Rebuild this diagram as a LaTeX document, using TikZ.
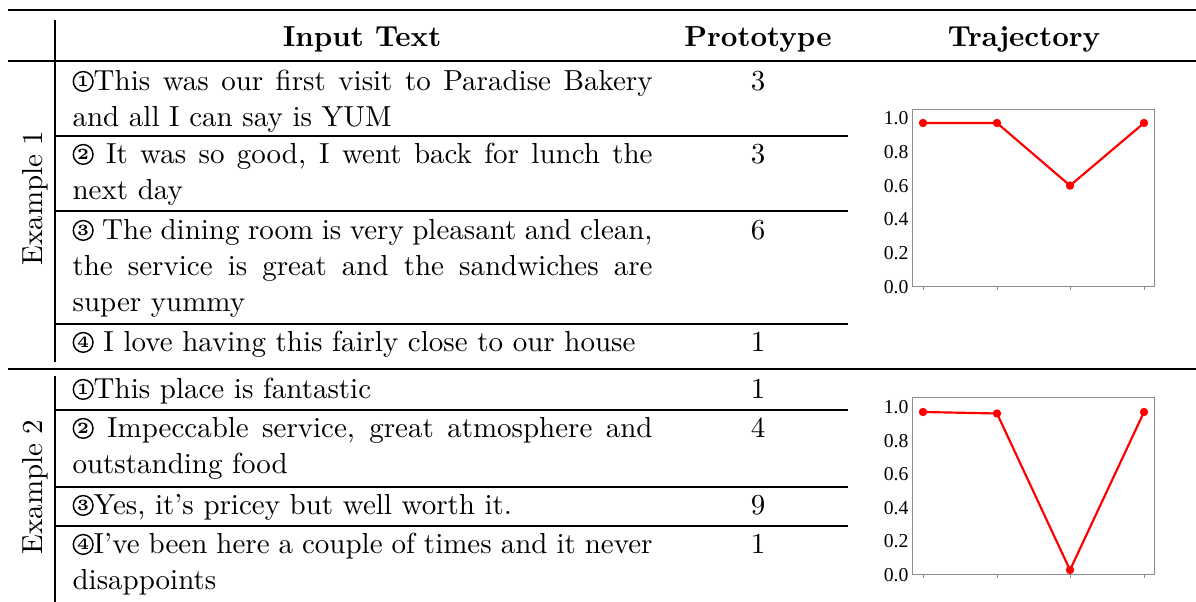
\documentclass[tikz,border=0pt]{standalone}
\usepackage{fontspec}
\newfontfamily\axisfont{Liberation Serif}
\newcommand\cnum[1]{\tikz[baseline=0pt,x=1pt,y=1pt]{\draw[line width=0.5pt] (0pt,3.3pt) circle[radius=3.4pt]; \node[anchor=center,inner sep=0pt,font=\fontsize{5.4}{5.4}\selectfont\bfseries] at (0pt,3.3pt) {#1};}}
\newcommand\jl[1]{\makebox[200.1pt][s]{#1}}
\begin{document}
\begin{tikzpicture}[x=0.345pt,y=-0.345pt,
  txt/.style={anchor=base west,inner sep=0pt,font=\fontsize{10}{12}\selectfont},
  num/.style={anchor=base,inner sep=0pt,font=\fontsize{10}{12}\selectfont},
  head/.style={anchor=base,inner sep=0pt,font=\fontsize{10}{12}\selectfont\bfseries},
  exlab/.style={rotate=90,inner sep=0pt,font=\fontsize{10}{12}\selectfont},
  heavy/.style={line width=0.8pt},
  thin/.style={line width=0.4pt},
  frame/.style={draw=black!45,line width=0.35pt},
  tick/.style={draw=black!45,line width=0.3pt},
  ylab/.style={anchor=east,inner sep=0pt,font=\axisfont\fontsize{6.8}{7}\selectfont},
  traj/.style={draw=red,line width=0.75pt},
  dot/.style={circle,fill=red,inner sep=0pt,minimum size=2.9pt}]
\useasboundingbox (0,0) rectangle (1196,602);
% rules
\draw[heavy] (8,10) -- (1196,10);
\draw[thin] (8,61) -- (1196,61);
\draw[heavy] (8,369) -- (1196,369);
\draw[thin] (55,20) -- (55,362);
\draw[thin] (55,376) -- (55,602);
\foreach \yy in {136,211,324,410,487,526} \draw[thin] (55,\yy) -- (848,\yy);
% header
\node[head] (hin) at (362,47) {Input Text};
\node[head] (hpr) at (758,47) {Prototype};
\node[head] (htr) at (1024,47) {Trajectory};
% example labels
\node[exlab] (ex1) at (35,198) {Example 1};
\node[exlab] (ex2) at (35,487) {Example 2};
% Example 1
\node[txt] (a1a) at (72,91) {\jl{\cnum{1}This was our first visit to Paradise Bakery}};
\node[txt] (a1b) at (72,127) {and all I can say is YUM};
\node[num] (p11) at (758,91) {3};
\node[txt] (a2a) at (72,164) {\jl{\cnum{2} It was so good, I went back for lunch the}};
\node[txt] (a2b) at (72,200) {next day};
\node[num] (p12) at (758,164) {3};
\node[txt] (a3a) at (72,240) {\jl{\cnum{3} The dining room is very pleasant and clean,}};
\node[txt] (a3b) at (72,276) {\jl{the service is great and the sandwiches are}};
\node[txt] (a3c) at (72,312) {super yummy};
\node[num] (p13) at (758,240) {6};
\node[txt] (a4a) at (72,352) {\cnum{4} I love having this fairly close to our house};
\node[num] (p14) at (758,352) {1};
% Example 2
\node[txt] (b1a) at (72,399) {\cnum{1}This place is fantastic};
\node[num] (p21) at (758,399) {1};
\node[txt] (b2a) at (72,438) {\jl{\cnum{2} Impeccable service, great atmosphere and}};
\node[txt] (b2b) at (72,474) {outstanding food};
\node[num] (p22) at (758,438) {4};
\node[txt] (b3a) at (72,515) {\cnum{3}Yes, it’s pricey but well worth it.};
\node[num] (p23) at (758,515) {9};
\node[txt] (b4a) at (72,554) {\jl{\cnum{4}I’ve been here a couple of times and it never}};
\node[txt] (b4b) at (72,590) {disappoints};
\node[num] (p24) at (758,554) {1};
% chart 1
\draw[frame] (912,110) rectangle (1154,287);
\foreach \v/\l in {0/0.0,1/0.2,2/0.4,3/0.6,4/0.8,5/1.0}
  \node[ylab] at (909,287-\v*33.8) {\l};
\foreach \xx in {923,997,1070,1144} \draw[tick] (\xx,287) -- (\xx,290);
\node[dot] (c1p1) at (923,123) {};
\node[dot] (c1p2) at (997,123) {};
\node[dot] (c1p3) at (1070,185.6) {};
\node[dot] (c1p4) at (1144,123) {};
\draw[traj] (c1p1.center) -- (c1p2.center) -- (c1p3.center) -- (c1p4.center);
% chart 2
\draw[frame] (912,398) rectangle (1154,575);
\foreach \v/\l in {0/0.0,1/0.2,2/0.4,3/0.6,4/0.8,5/1.0}
  \node[ylab] at (909,575-\v*33.6) {\l};
\foreach \xx in {923,997,1070,1144} \draw[tick] (\xx,575) -- (\xx,578);
\node[dot] (c2p1) at (923,412) {};
\node[dot] (c2p2) at (997,413.5) {};
\node[dot] (c2p3) at (1070,570) {};
\node[dot] (c2p4) at (1144,412) {};
\draw[traj] (c2p1.center) -- (c2p2.center) -- (c2p3.center) -- (c2p4.center);
\end{tikzpicture}
\end{document}
